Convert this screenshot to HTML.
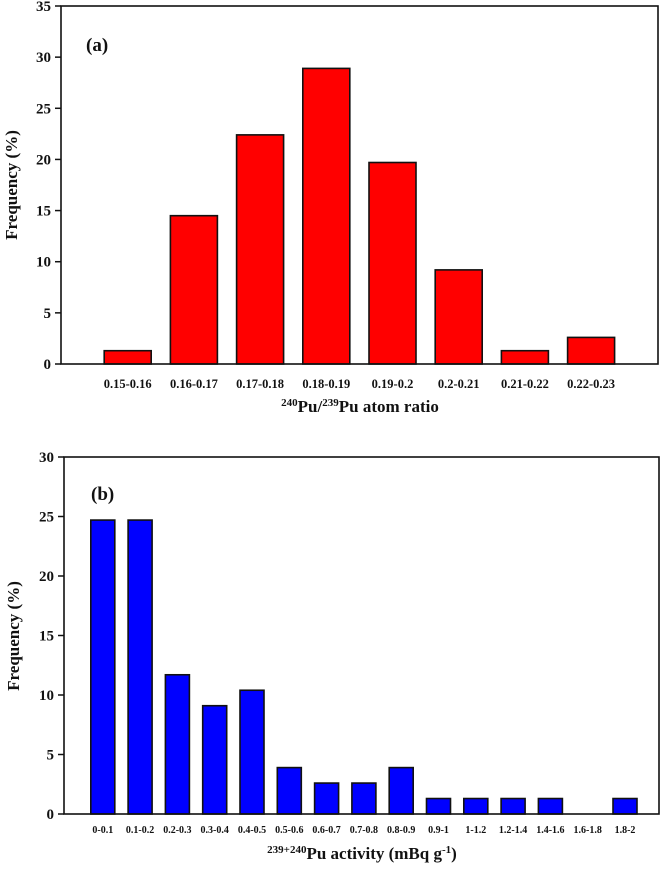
<!DOCTYPE html>
<html><head><meta charset="utf-8">
<style>
body{margin:0;background:#fff;}
svg text{font-family:"Liberation Serif","Times New Roman",serif;font-weight:bold;fill:#111;}
</style></head>
<body>
<svg id="svg" width="664" height="865" xmlns="http://www.w3.org/2000/svg" font-family="Liberation Serif, serif" font-weight="bold">
<g id="ga"></g>
<g id="gb"></g>
</svg>
<script>
const catsA = ["0.15-0.16","0.16-0.17","0.17-0.18","0.18-0.19","0.19-0.2","0.2-0.21","0.21-0.22","0.22-0.23"];
const valsA = [1.3,14.5,22.4,28.9,19.7,9.2,1.3,2.6];
const ticksA = [0,5,10,15,20,25,30,35];
const catsB = ["0-0.1","0.1-0.2","0.2-0.3","0.3-0.4","0.4-0.5","0.5-0.6","0.6-0.7","0.7-0.8","0.8-0.9","0.9-1","1-1.2","1.2-1.4","1.4-1.6","1.6-1.8","1.8-2"];
const valsB = [24.7,24.7,11.7,9.1,10.4,3.9,2.6,2.6,3.9,1.3,1.3,1.3,1.3,0,1.3];
const ticksB = [0,5,10,15,20,25,30];
const NS="http://www.w3.org/2000/svg";
function mk(p,t,a){const e=document.createElementNS(NS,t);for(const k in a)e.setAttribute(k,a[k]);p.appendChild(e);return e;}
function draw(g,o,cats,vals,ticks,color){
  const ymax=ticks[ticks.length-1];
  const y=v=>o.y0-(o.y0-o.y1)*v/ymax;
  const x=i=>o.x0+o.step*(i+1)+o.off;
  vals.forEach((v,i)=>{
    if(v<=0)return;
    const r=mk(g,"rect",{x:x(i)-o.bw/2,y:y(v),width:o.bw,height:o.y0-y(v),fill:color,stroke:"#111","stroke-width":1.6});
    
    
  });
  cats.forEach((c,i)=>{
    const t=mk(g,"text",{x:x(i),y:o.y0+o.tly,"text-anchor":"middle","font-size":o.tfs});
    t.textContent=c;
    
    
  });
  ticks.forEach(v=>{
    mk(g,"line",{x1:o.x0-6,x2:o.x0,y1:y(v),y2:y(v),stroke:"#111","stroke-width":1.5});
    const t=mk(g,"text",{x:o.x0-10,y:y(v)+5,"text-anchor":"end","font-size":15});
    t.textContent=v;
    
    
  });
  const fr=mk(g,"rect",{x:o.x0,y:o.y1,width:o.x1-o.x0,height:o.y0-o.y1,fill:"none",stroke:"#111","stroke-width":1.6});
  
  
}
draw(document.getElementById('ga'),{x0:61,x1:658,y0:364,y1:6,step:66.2,off:0.5,bw:47,tly:24,tfs:12.5},catsA,valsA,ticksA,"#ff0000");
draw(document.getElementById('gb'),{x0:64,x1:659,y0:814,y1:457,step:37.3,off:1.5,bw:24,tly:19,tfs:10},catsB,valsB,ticksB,"#0000ff");
</script>
<svg style="position:absolute;left:0;top:0" width="664" height="865" xmlns="http://www.w3.org/2000/svg" font-family="Liberation Serif, serif" font-weight="bold">
<text x="86" y="51" font-size="19">(a)</text>
<text x="91" y="500" font-size="19">(b)</text>
<text transform="translate(17,185) rotate(-90)" text-anchor="middle" font-size="17">Frequency (%)</text>
<text transform="translate(19,636) rotate(-90)" text-anchor="middle" font-size="17">Frequency (%)</text>
<text x="360" y="412" text-anchor="middle" font-size="17"><tspan font-size="11" dy="-6">240</tspan><tspan dy="6">Pu/</tspan><tspan font-size="11" dy="-6">239</tspan><tspan dy="6">Pu atom ratio</tspan></text>
<text x="362" y="859" text-anchor="middle" font-size="17"><tspan font-size="11" dy="-6">239+240</tspan><tspan dy="6">Pu activity (mBq g</tspan><tspan font-size="11" dy="-6">-1</tspan><tspan dy="6">)</tspan></text>
</svg>
</body></html>
